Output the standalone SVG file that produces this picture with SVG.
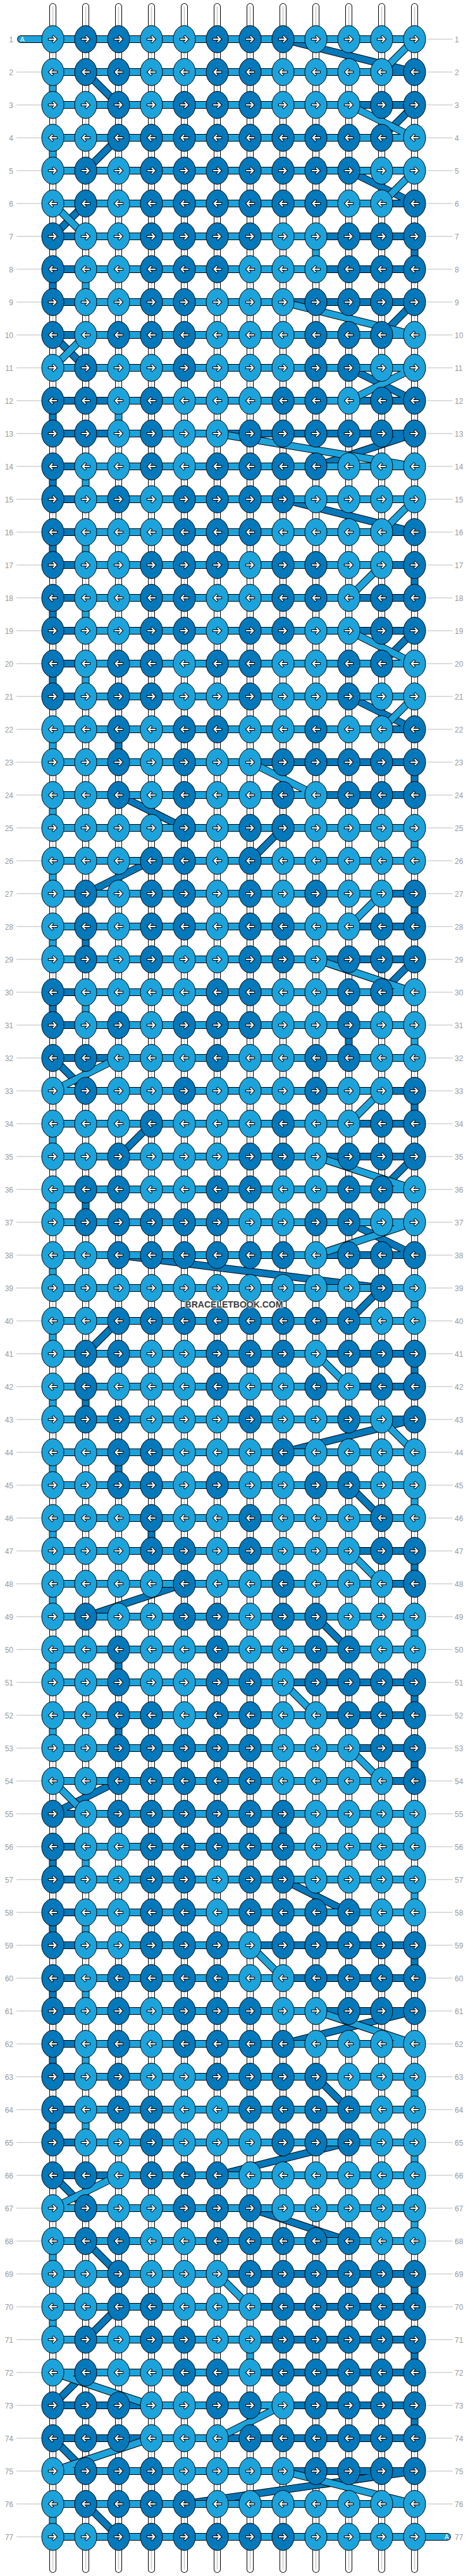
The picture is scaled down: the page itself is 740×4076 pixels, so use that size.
<svg xmlns="http://www.w3.org/2000/svg" width="740" height="4076" viewBox="0 0 740 4076">
<style>
text{font-family:"Liberation Sans",Arial,sans-serif}
.nl{font-size:12px;fill:#999;text-anchor:end}
.nr{font-size:12px;fill:#999}
.at{font-size:10px;fill:#fff}
.wm{font-size:14px;font-weight:bold;fill:#3d3d3d;text-anchor:middle;stroke:#fff;stroke-width:2px;stroke-opacity:.7;paint-order:stroke}
.gl{fill:none;stroke:#bbb;stroke-width:.0192}
.to{fill:none;stroke:#000;stroke-width:.2115;stroke-linecap:round}
.tw{fill:none;stroke:#fff;stroke-width:.1731;stroke-linecap:round}
.tg{fill:none;stroke:#c8c8c8;stroke-width:.03}
.o{fill:none;stroke:#000;stroke-width:.2308;stroke-linejoin:round;stroke-linecap:round}
.fa{fill:none;stroke:#1da3db;stroke-width:.1923;stroke-linejoin:round;stroke-linecap:round}
.fb{fill:none;stroke:#0378ba;stroke-width:.1923;stroke-linejoin:round;stroke-linecap:round}
.eL{fill:#1da3db;stroke:#000;stroke-width:1}
.eD{fill:#0378ba;stroke:#000;stroke-width:1}
.ao{fill:none;stroke:#000;stroke-width:4.1;stroke-linecap:square}
.ai{fill:none;stroke:#fff;stroke-width:2.1;stroke-linecap:square}
</style>
<defs>
<path id="ar" d="M-5.6 0H4.6M1 -3.9L4.9 0L1 3.9"/>
<g id="R"><use href="#ar" class="ao"/><use href="#ar" class="ai"/></g>
<g id="a"><ellipse class="eL" rx="17.5" ry="21.5"/><use href="#R"/></g>
<g id="b"><ellipse class="eD" rx="17.5" ry="21.5"/><use href="#R"/></g>
<g id="c"><ellipse class="eL" rx="17.5" ry="21.5"/><use href="#R" transform="scale(-1 1)"/></g>
<g id="d"><ellipse class="eD" rx="17.5" ry="21.5"/><use href="#R" transform="scale(-1 1)"/></g>
<path id="tube" d="M1 .01V77.99M2 .01V77.99M3 .01V77.99M4 .01V77.99M5 .01V77.99M6 .01V77.99M7 .01V77.99M8 .01V77.99M9 .01V77.99M10 .01V77.99M11 .01V77.99M12 .01V77.99"/>
<path id="pB" d="M2 1H8L12 2H2L3 3H12L11 4H3L2 5H10L12 6H2L1 7H12L12 8H1L1 9H12L11 10H1L2 11H10L12 12H1L1 13H12L9 14H1L1 15H8L12 16H1L1 17H12L12 18H1L1 19H12L11 20H1L1 21H10L12 22H3L3 23H12L12 24H3L5 25H8L7 26H4L2 27H12L12 28H2L2 29H12L11 30H1L1 31H10L10 32H1L2 33H12L12 34H4L3 35H12L11 36H2L2 37H10L12 38H3L11 39L10 40H3L2 41H12L12 42H2L2 43H12L8 44H3L3 45H10L11 46H4L4 47H12L12 48H5L2 49H9L10 50H3L3 51H12L12 52H3L3 53H12L12 54H3L1 55H8L8 56H1L1 57H8L10 58H1L1 59H12L12 60H1L1 61H12L8 62H1L1 63H9L10 64H1L1 65H10L6 66H1L2 67H7L10 68H2L3 69H12L12 70H3L2 71H12L12 72H2L1 73H12L12 74H1L2 75H12L5 76H2L3 77H8"/>
<path id="pA" d="M.03 1H12L11 2H1L1 3H10L12 4H1L1 5H12L11 6H1L2 7H9L9 8H2L2 9H8L12 10H2L1 11H12L10 12H3L3 13H6L12 14H2L2 15H12L11 16H2L2 17H11L10 18H2L2 19H10L12 20H2L2 21H12L11 22H1L1 23H7L9 24H1L1 25H12L12 26H1L1 27H11L10 28H1L1 29H9L12 30H2L2 31H12L12 32H3L1 33H11L10 34H1L1 35H9L12 36H1L1 37H12L9 38H1L1 39H12L12 40H1L1 41H9L10 42H1L1 43H11L12 44H1L1 45H12L12 46H1L1 47H10L11 48H1L1 49H12L12 50H1L1 51H8L9 52H1L1 53H10L11 54H1L2 55H12L12 56H2L2 57H12L12 58H2L2 59H7L8 60H2L2 61H9L12 62H2L2 63H12L12 64H2L2 65H12L12 66H3L1 67H12L12 68H1L1 69H6L7 70H1L1 71H7L7 72H1L4 73H8L6 74H4L1 75H8L12 76H1L1 77H12.99"/>
</defs>
<rect width="740" height="4076" fill="#fff"/>
<g id="grid" transform="translate(31.5 10) scale(52)">
<path class="gl" d="M-.106 2H.663M-.106 3H.663M-.106 4H.663M-.106 5H.663M-.106 6H.663M-.106 7H.663M-.106 8H.663M-.106 9H.663M-.106 10H.663M-.106 11H.663M-.106 12H.663M-.106 13H.663M-.106 14H.663M-.106 15H.663M-.106 16H.663M-.106 17H.663M-.106 18H.663M-.106 19H.663M-.106 20H.663M-.106 21H.663M-.106 22H.663M-.106 23H.663M-.106 24H.663M-.106 25H.663M-.106 26H.663M-.106 27H.663M-.106 28H.663M-.106 29H.663M-.106 30H.663M-.106 31H.663M-.106 32H.663M-.106 33H.663M-.106 34H.663M-.106 35H.663M-.106 36H.663M-.106 37H.663M-.106 38H.663M-.106 39H.663M-.106 40H.663M-.106 41H.663M-.106 42H.663M-.106 43H.663M-.106 44H.663M-.106 45H.663M-.106 46H.663M-.106 47H.663M-.106 48H.663M-.106 49H.663M-.106 50H.663M-.106 51H.663M-.106 52H.663M-.106 53H.663M-.106 54H.663M-.106 55H.663M-.106 56H.663M-.106 57H.663M-.106 58H.663M-.106 59H.663M-.106 60H.663M-.106 61H.663M-.106 62H.663M-.106 63H.663M-.106 64H.663M-.106 65H.663M-.106 66H.663M-.106 67H.663M-.106 68H.663M-.106 69H.663M-.106 70H.663M-.106 71H.663M-.106 72H.663M-.106 73H.663M-.106 74H.663M-.106 75H.663M-.106 76H.663M-.106 77H.663"/>
<path class="gl" d="M12.385 1H13.154M12.385 2H13.154M12.385 3H13.154M12.385 4H13.154M12.385 5H13.154M12.385 6H13.154M12.385 7H13.154M12.385 8H13.154M12.385 9H13.154M12.385 10H13.154M12.385 11H13.154M12.385 12H13.154M12.385 13H13.154M12.385 14H13.154M12.385 15H13.154M12.385 16H13.154M12.385 17H13.154M12.385 18H13.154M12.385 19H13.154M12.385 20H13.154M12.385 21H13.154M12.385 22H13.154M12.385 23H13.154M12.385 24H13.154M12.385 25H13.154M12.385 26H13.154M12.385 27H13.154M12.385 28H13.154M12.385 29H13.154M12.385 30H13.154M12.385 31H13.154M12.385 32H13.154M12.385 33H13.154M12.385 34H13.154M12.385 35H13.154M12.385 36H13.154M12.385 37H13.154M12.385 38H13.154M12.385 39H13.154M12.385 40H13.154M12.385 41H13.154M12.385 42H13.154M12.385 43H13.154M12.385 44H13.154M12.385 45H13.154M12.385 46H13.154M12.385 47H13.154M12.385 48H13.154M12.385 49H13.154M12.385 50H13.154M12.385 51H13.154M12.385 52H13.154M12.385 53H13.154M12.385 54H13.154M12.385 55H13.154M12.385 56H13.154M12.385 57H13.154M12.385 58H13.154M12.385 59H13.154M12.385 60H13.154M12.385 61H13.154M12.385 62H13.154M12.385 63H13.154M12.385 64H13.154M12.385 65H13.154M12.385 66H13.154M12.385 67H13.154M12.385 68H13.154M12.385 69H13.154M12.385 70H13.154M12.385 71H13.154M12.385 72H13.154M12.385 73H13.154M12.385 74H13.154M12.385 75H13.154M12.385 76H13.154"/>
<g id="strings"><use href="#tube" class="to"/><use href="#tube" class="tw"/><use href="#tube" class="tg"/></g>
<g id="connectors">
<g id="threadB"><use href="#pB" class="o"/><use href="#pB" class="fb"/></g>
<g id="threadA"><use href="#pA" class="o"/><use href="#pA" class="fa"/></g>
</g>
</g>
<text class="at" x="32" y="66">A</text>
<text class="at" x="703" y="4018">A</text>
<g id="knots">
<g id="row1" transform="translate(31.5 62)"><use id="k1-1" href="#a" x="52"/><use id="k1-2" href="#b" x="104"/><use id="k1-3" href="#b" x="156"/><use id="k1-4" href="#a" x="208"/><use id="k1-5" href="#a" x="260"/><use id="k1-6" href="#b" x="312"/><use id="k1-7" href="#b" x="364"/><use id="k1-8" href="#b" x="416"/><use id="k1-9" href="#a" x="468"/><use id="k1-10" href="#a" x="520"/><use id="k1-11" href="#a" x="572"/><use id="k1-12" href="#a" x="624"/></g>
<g id="row2" transform="translate(31.5 114)"><use id="k2-1" href="#c" x="52"/><use id="k2-2" href="#d" x="104"/><use id="k2-3" href="#d" x="156"/><use id="k2-4" href="#c" x="208"/><use id="k2-5" href="#c" x="260"/><use id="k2-6" href="#d" x="312"/><use id="k2-7" href="#d" x="364"/><use id="k2-8" href="#c" x="416"/><use id="k2-9" href="#c" x="468"/><use id="k2-10" href="#c" x="520"/><use id="k2-11" href="#c" x="572"/><use id="k2-12" href="#d" x="624"/></g>
<g id="row3" transform="translate(31.5 166)"><use id="k3-1" href="#a" x="52"/><use id="k3-2" href="#a" x="104"/><use id="k3-3" href="#b" x="156"/><use id="k3-4" href="#a" x="208"/><use id="k3-5" href="#b" x="260"/><use id="k3-6" href="#b" x="312"/><use id="k3-7" href="#b" x="364"/><use id="k3-8" href="#a" x="416"/><use id="k3-9" href="#a" x="468"/><use id="k3-10" href="#a" x="520"/><use id="k3-11" href="#b" x="572"/><use id="k3-12" href="#b" x="624"/></g>
<g id="row4" transform="translate(31.5 218)"><use id="k4-1" href="#c" x="52"/><use id="k4-2" href="#c" x="104"/><use id="k4-3" href="#d" x="156"/><use id="k4-4" href="#d" x="208"/><use id="k4-5" href="#d" x="260"/><use id="k4-6" href="#d" x="312"/><use id="k4-7" href="#d" x="364"/><use id="k4-8" href="#d" x="416"/><use id="k4-9" href="#d" x="468"/><use id="k4-10" href="#d" x="520"/><use id="k4-11" href="#d" x="572"/><use id="k4-12" href="#c" x="624"/></g>
<g id="row5" transform="translate(31.5 270)"><use id="k5-1" href="#a" x="52"/><use id="k5-2" href="#b" x="104"/><use id="k5-3" href="#a" x="156"/><use id="k5-4" href="#b" x="208"/><use id="k5-5" href="#b" x="260"/><use id="k5-6" href="#b" x="312"/><use id="k5-7" href="#b" x="364"/><use id="k5-8" href="#b" x="416"/><use id="k5-9" href="#b" x="468"/><use id="k5-10" href="#b" x="520"/><use id="k5-11" href="#a" x="572"/><use id="k5-12" href="#a" x="624"/></g>
<g id="row6" transform="translate(31.5 322)"><use id="k6-1" href="#c" x="52"/><use id="k6-2" href="#d" x="104"/><use id="k6-3" href="#c" x="156"/><use id="k6-4" href="#d" x="208"/><use id="k6-5" href="#d" x="260"/><use id="k6-6" href="#d" x="312"/><use id="k6-7" href="#d" x="364"/><use id="k6-8" href="#d" x="416"/><use id="k6-9" href="#d" x="468"/><use id="k6-10" href="#c" x="520"/><use id="k6-11" href="#c" x="572"/><use id="k6-12" href="#d" x="624"/></g>
<g id="row7" transform="translate(31.5 374)"><use id="k7-1" href="#b" x="52"/><use id="k7-2" href="#a" x="104"/><use id="k7-3" href="#a" x="156"/><use id="k7-4" href="#b" x="208"/><use id="k7-5" href="#b" x="260"/><use id="k7-6" href="#b" x="312"/><use id="k7-7" href="#b" x="364"/><use id="k7-8" href="#a" x="416"/><use id="k7-9" href="#a" x="468"/><use id="k7-10" href="#b" x="520"/><use id="k7-11" href="#b" x="572"/><use id="k7-12" href="#b" x="624"/></g>
<g id="row8" transform="translate(31.5 426)"><use id="k8-1" href="#d" x="52"/><use id="k8-2" href="#c" x="104"/><use id="k8-3" href="#c" x="156"/><use id="k8-4" href="#d" x="208"/><use id="k8-5" href="#d" x="260"/><use id="k8-6" href="#d" x="312"/><use id="k8-7" href="#c" x="364"/><use id="k8-8" href="#c" x="416"/><use id="k8-9" href="#c" x="468"/><use id="k8-10" href="#d" x="520"/><use id="k8-11" href="#d" x="572"/><use id="k8-12" href="#d" x="624"/></g>
<g id="row9" transform="translate(31.5 478)"><use id="k9-1" href="#b" x="52"/><use id="k9-2" href="#a" x="104"/><use id="k9-3" href="#a" x="156"/><use id="k9-4" href="#b" x="208"/><use id="k9-5" href="#b" x="260"/><use id="k9-6" href="#a" x="312"/><use id="k9-7" href="#a" x="364"/><use id="k9-8" href="#a" x="416"/><use id="k9-9" href="#b" x="468"/><use id="k9-10" href="#b" x="520"/><use id="k9-11" href="#b" x="572"/><use id="k9-12" href="#b" x="624"/></g>
<g id="row10" transform="translate(31.5 530)"><use id="k10-1" href="#d" x="52"/><use id="k10-2" href="#c" x="104"/><use id="k10-3" href="#d" x="156"/><use id="k10-4" href="#d" x="208"/><use id="k10-5" href="#d" x="260"/><use id="k10-6" href="#c" x="312"/><use id="k10-7" href="#c" x="364"/><use id="k10-8" href="#c" x="416"/><use id="k10-9" href="#d" x="468"/><use id="k10-10" href="#d" x="520"/><use id="k10-11" href="#d" x="572"/><use id="k10-12" href="#c" x="624"/></g>
<g id="row11" transform="translate(31.5 582)"><use id="k11-1" href="#a" x="52"/><use id="k11-2" href="#b" x="104"/><use id="k11-3" href="#a" x="156"/><use id="k11-4" href="#a" x="208"/><use id="k11-5" href="#b" x="260"/><use id="k11-6" href="#a" x="312"/><use id="k11-7" href="#a" x="364"/><use id="k11-8" href="#a" x="416"/><use id="k11-9" href="#b" x="468"/><use id="k11-10" href="#b" x="520"/><use id="k11-11" href="#a" x="572"/><use id="k11-12" href="#a" x="624"/></g>
<g id="row12" transform="translate(31.5 634)"><use id="k12-1" href="#d" x="52"/><use id="k12-2" href="#d" x="104"/><use id="k12-3" href="#c" x="156"/><use id="k12-4" href="#d" x="208"/><use id="k12-5" href="#c" x="260"/><use id="k12-6" href="#c" x="312"/><use id="k12-7" href="#c" x="364"/><use id="k12-8" href="#d" x="416"/><use id="k12-9" href="#d" x="468"/><use id="k12-10" href="#c" x="520"/><use id="k12-11" href="#d" x="572"/><use id="k12-12" href="#d" x="624"/></g>
<g id="row13" transform="translate(31.5 686)"><use id="k13-1" href="#b" x="52"/><use id="k13-2" href="#b" x="104"/><use id="k13-3" href="#a" x="156"/><use id="k13-4" href="#b" x="208"/><use id="k13-5" href="#a" x="260"/><use id="k13-6" href="#a" x="312"/><use id="k13-7" href="#b" x="364"/><use id="k13-8" href="#b" x="416"/><use id="k13-9" href="#b" x="468"/><use id="k13-10" href="#b" x="520"/><use id="k13-11" href="#b" x="572"/><use id="k13-12" href="#b" x="624"/></g>
<g id="row14" transform="translate(31.5 738)"><use id="k14-1" href="#d" x="52"/><use id="k14-2" href="#c" x="104"/><use id="k14-3" href="#c" x="156"/><use id="k14-4" href="#d" x="208"/><use id="k14-5" href="#c" x="260"/><use id="k14-6" href="#d" x="312"/><use id="k14-7" href="#d" x="364"/><use id="k14-8" href="#d" x="416"/><use id="k14-9" href="#d" x="468"/><use id="k14-10" href="#c" x="520"/><use id="k14-11" href="#c" x="572"/><use id="k14-12" href="#c" x="624"/></g>
<g id="row15" transform="translate(31.5 790)"><use id="k15-1" href="#b" x="52"/><use id="k15-2" href="#a" x="104"/><use id="k15-3" href="#b" x="156"/><use id="k15-4" href="#a" x="208"/><use id="k15-5" href="#b" x="260"/><use id="k15-6" href="#b" x="312"/><use id="k15-7" href="#b" x="364"/><use id="k15-8" href="#b" x="416"/><use id="k15-9" href="#a" x="468"/><use id="k15-10" href="#a" x="520"/><use id="k15-11" href="#a" x="572"/><use id="k15-12" href="#a" x="624"/></g>
<g id="row16" transform="translate(31.5 842)"><use id="k16-1" href="#d" x="52"/><use id="k16-2" href="#c" x="104"/><use id="k16-3" href="#c" x="156"/><use id="k16-4" href="#c" x="208"/><use id="k16-5" href="#d" x="260"/><use id="k16-6" href="#d" x="312"/><use id="k16-7" href="#d" x="364"/><use id="k16-8" href="#c" x="416"/><use id="k16-9" href="#c" x="468"/><use id="k16-10" href="#c" x="520"/><use id="k16-11" href="#c" x="572"/><use id="k16-12" href="#d" x="624"/></g>
<g id="row17" transform="translate(31.5 894)"><use id="k17-1" href="#b" x="52"/><use id="k17-2" href="#a" x="104"/><use id="k17-3" href="#a" x="156"/><use id="k17-4" href="#b" x="208"/><use id="k17-5" href="#b" x="260"/><use id="k17-6" href="#b" x="312"/><use id="k17-7" href="#a" x="364"/><use id="k17-8" href="#b" x="416"/><use id="k17-9" href="#b" x="468"/><use id="k17-10" href="#a" x="520"/><use id="k17-11" href="#a" x="572"/><use id="k17-12" href="#b" x="624"/></g>
<g id="row18" transform="translate(31.5 946)"><use id="k18-1" href="#d" x="52"/><use id="k18-2" href="#c" x="104"/><use id="k18-3" href="#c" x="156"/><use id="k18-4" href="#d" x="208"/><use id="k18-5" href="#d" x="260"/><use id="k18-6" href="#c" x="312"/><use id="k18-7" href="#c" x="364"/><use id="k18-8" href="#d" x="416"/><use id="k18-9" href="#d" x="468"/><use id="k18-10" href="#c" x="520"/><use id="k18-11" href="#d" x="572"/><use id="k18-12" href="#d" x="624"/></g>
<g id="row19" transform="translate(31.5 998)"><use id="k19-1" href="#b" x="52"/><use id="k19-2" href="#a" x="104"/><use id="k19-3" href="#a" x="156"/><use id="k19-4" href="#b" x="208"/><use id="k19-5" href="#b" x="260"/><use id="k19-6" href="#a" x="312"/><use id="k19-7" href="#b" x="364"/><use id="k19-8" href="#b" x="416"/><use id="k19-9" href="#a" x="468"/><use id="k19-10" href="#a" x="520"/><use id="k19-11" href="#b" x="572"/><use id="k19-12" href="#b" x="624"/></g>
<g id="row20" transform="translate(31.5 1050)"><use id="k20-1" href="#d" x="52"/><use id="k20-2" href="#c" x="104"/><use id="k20-3" href="#d" x="156"/><use id="k20-4" href="#d" x="208"/><use id="k20-5" href="#c" x="260"/><use id="k20-6" href="#d" x="312"/><use id="k20-7" href="#d" x="364"/><use id="k20-8" href="#c" x="416"/><use id="k20-9" href="#c" x="468"/><use id="k20-10" href="#d" x="520"/><use id="k20-11" href="#d" x="572"/><use id="k20-12" href="#c" x="624"/></g>
<g id="row21" transform="translate(31.5 1102)"><use id="k21-1" href="#b" x="52"/><use id="k21-2" href="#a" x="104"/><use id="k21-3" href="#b" x="156"/><use id="k21-4" href="#b" x="208"/><use id="k21-5" href="#a" x="260"/><use id="k21-6" href="#a" x="312"/><use id="k21-7" href="#b" x="364"/><use id="k21-8" href="#a" x="416"/><use id="k21-9" href="#a" x="468"/><use id="k21-10" href="#b" x="520"/><use id="k21-11" href="#a" x="572"/><use id="k21-12" href="#a" x="624"/></g>
<g id="row22" transform="translate(31.5 1154)"><use id="k22-1" href="#c" x="52"/><use id="k22-2" href="#c" x="104"/><use id="k22-3" href="#d" x="156"/><use id="k22-4" href="#c" x="208"/><use id="k22-5" href="#d" x="260"/><use id="k22-6" href="#d" x="312"/><use id="k22-7" href="#c" x="364"/><use id="k22-8" href="#c" x="416"/><use id="k22-9" href="#d" x="468"/><use id="k22-10" href="#c" x="520"/><use id="k22-11" href="#c" x="572"/><use id="k22-12" href="#d" x="624"/></g>
<g id="row23" transform="translate(31.5 1206)"><use id="k23-1" href="#a" x="52"/><use id="k23-2" href="#a" x="104"/><use id="k23-3" href="#b" x="156"/><use id="k23-4" href="#a" x="208"/><use id="k23-5" href="#b" x="260"/><use id="k23-6" href="#a" x="312"/><use id="k23-7" href="#a" x="364"/><use id="k23-8" href="#b" x="416"/><use id="k23-9" href="#b" x="468"/><use id="k23-10" href="#b" x="520"/><use id="k23-11" href="#b" x="572"/><use id="k23-12" href="#b" x="624"/></g>
<g id="row24" transform="translate(31.5 1258)"><use id="k24-1" href="#c" x="52"/><use id="k24-2" href="#c" x="104"/><use id="k24-3" href="#d" x="156"/><use id="k24-4" href="#c" x="208"/><use id="k24-5" href="#d" x="260"/><use id="k24-6" href="#c" x="312"/><use id="k24-7" href="#c" x="364"/><use id="k24-8" href="#d" x="416"/><use id="k24-9" href="#c" x="468"/><use id="k24-10" href="#d" x="520"/><use id="k24-11" href="#d" x="572"/><use id="k24-12" href="#d" x="624"/></g>
<g id="row25" transform="translate(31.5 1310)"><use id="k25-1" href="#a" x="52"/><use id="k25-2" href="#a" x="104"/><use id="k25-3" href="#a" x="156"/><use id="k25-4" href="#a" x="208"/><use id="k25-5" href="#b" x="260"/><use id="k25-6" href="#a" x="312"/><use id="k25-7" href="#b" x="364"/><use id="k25-8" href="#b" x="416"/><use id="k25-9" href="#a" x="468"/><use id="k25-10" href="#a" x="520"/><use id="k25-11" href="#a" x="572"/><use id="k25-12" href="#a" x="624"/></g>
<g id="row26" transform="translate(31.5 1362)"><use id="k26-1" href="#c" x="52"/><use id="k26-2" href="#c" x="104"/><use id="k26-3" href="#c" x="156"/><use id="k26-4" href="#d" x="208"/><use id="k26-5" href="#d" x="260"/><use id="k26-6" href="#c" x="312"/><use id="k26-7" href="#d" x="364"/><use id="k26-8" href="#c" x="416"/><use id="k26-9" href="#c" x="468"/><use id="k26-10" href="#c" x="520"/><use id="k26-11" href="#c" x="572"/><use id="k26-12" href="#c" x="624"/></g>
<g id="row27" transform="translate(31.5 1414)"><use id="k27-1" href="#a" x="52"/><use id="k27-2" href="#b" x="104"/><use id="k27-3" href="#a" x="156"/><use id="k27-4" href="#b" x="208"/><use id="k27-5" href="#b" x="260"/><use id="k27-6" href="#a" x="312"/><use id="k27-7" href="#b" x="364"/><use id="k27-8" href="#a" x="416"/><use id="k27-9" href="#b" x="468"/><use id="k27-10" href="#a" x="520"/><use id="k27-11" href="#a" x="572"/><use id="k27-12" href="#b" x="624"/></g>
<g id="row28" transform="translate(31.5 1466)"><use id="k28-1" href="#c" x="52"/><use id="k28-2" href="#d" x="104"/><use id="k28-3" href="#c" x="156"/><use id="k28-4" href="#d" x="208"/><use id="k28-5" href="#d" x="260"/><use id="k28-6" href="#c" x="312"/><use id="k28-7" href="#d" x="364"/><use id="k28-8" href="#d" x="416"/><use id="k28-9" href="#c" x="468"/><use id="k28-10" href="#c" x="520"/><use id="k28-11" href="#d" x="572"/><use id="k28-12" href="#d" x="624"/></g>
<g id="row29" transform="translate(31.5 1518)"><use id="k29-1" href="#a" x="52"/><use id="k29-2" href="#b" x="104"/><use id="k29-3" href="#a" x="156"/><use id="k29-4" href="#b" x="208"/><use id="k29-5" href="#a" x="260"/><use id="k29-6" href="#a" x="312"/><use id="k29-7" href="#b" x="364"/><use id="k29-8" href="#b" x="416"/><use id="k29-9" href="#a" x="468"/><use id="k29-10" href="#b" x="520"/><use id="k29-11" href="#b" x="572"/><use id="k29-12" href="#b" x="624"/></g>
<g id="row30" transform="translate(31.5 1570)"><use id="k30-1" href="#d" x="52"/><use id="k30-2" href="#c" x="104"/><use id="k30-3" href="#c" x="156"/><use id="k30-4" href="#c" x="208"/><use id="k30-5" href="#c" x="260"/><use id="k30-6" href="#d" x="312"/><use id="k30-7" href="#d" x="364"/><use id="k30-8" href="#c" x="416"/><use id="k30-9" href="#c" x="468"/><use id="k30-10" href="#d" x="520"/><use id="k30-11" href="#d" x="572"/><use id="k30-12" href="#c" x="624"/></g>
<g id="row31" transform="translate(31.5 1622)"><use id="k31-1" href="#b" x="52"/><use id="k31-2" href="#a" x="104"/><use id="k31-3" href="#b" x="156"/><use id="k31-4" href="#a" x="208"/><use id="k31-5" href="#b" x="260"/><use id="k31-6" href="#b" x="312"/><use id="k31-7" href="#b" x="364"/><use id="k31-8" href="#a" x="416"/><use id="k31-9" href="#a" x="468"/><use id="k31-10" href="#b" x="520"/><use id="k31-11" href="#a" x="572"/><use id="k31-12" href="#a" x="624"/></g>
<g id="row32" transform="translate(31.5 1674)"><use id="k32-1" href="#d" x="52"/><use id="k32-2" href="#d" x="104"/><use id="k32-3" href="#c" x="156"/><use id="k32-4" href="#c" x="208"/><use id="k32-5" href="#c" x="260"/><use id="k32-6" href="#d" x="312"/><use id="k32-7" href="#c" x="364"/><use id="k32-8" href="#c" x="416"/><use id="k32-9" href="#d" x="468"/><use id="k32-10" href="#d" x="520"/><use id="k32-11" href="#c" x="572"/><use id="k32-12" href="#c" x="624"/></g>
<g id="row33" transform="translate(31.5 1726)"><use id="k33-1" href="#a" x="52"/><use id="k33-2" href="#b" x="104"/><use id="k33-3" href="#a" x="156"/><use id="k33-4" href="#a" x="208"/><use id="k33-5" href="#b" x="260"/><use id="k33-6" href="#a" x="312"/><use id="k33-7" href="#a" x="364"/><use id="k33-8" href="#a" x="416"/><use id="k33-9" href="#b" x="468"/><use id="k33-10" href="#a" x="520"/><use id="k33-11" href="#a" x="572"/><use id="k33-12" href="#b" x="624"/></g>
<g id="row34" transform="translate(31.5 1778)"><use id="k34-1" href="#c" x="52"/><use id="k34-2" href="#c" x="104"/><use id="k34-3" href="#c" x="156"/><use id="k34-4" href="#d" x="208"/><use id="k34-5" href="#c" x="260"/><use id="k34-6" href="#c" x="312"/><use id="k34-7" href="#c" x="364"/><use id="k34-8" href="#d" x="416"/><use id="k34-9" href="#c" x="468"/><use id="k34-10" href="#c" x="520"/><use id="k34-11" href="#d" x="572"/><use id="k34-12" href="#d" x="624"/></g>
<g id="row35" transform="translate(31.5 1830)"><use id="k35-1" href="#a" x="52"/><use id="k35-2" href="#a" x="104"/><use id="k35-3" href="#b" x="156"/><use id="k35-4" href="#a" x="208"/><use id="k35-5" href="#a" x="260"/><use id="k35-6" href="#a" x="312"/><use id="k35-7" href="#b" x="364"/><use id="k35-8" href="#b" x="416"/><use id="k35-9" href="#a" x="468"/><use id="k35-10" href="#b" x="520"/><use id="k35-11" href="#b" x="572"/><use id="k35-12" href="#b" x="624"/></g>
<g id="row36" transform="translate(31.5 1882)"><use id="k36-1" href="#c" x="52"/><use id="k36-2" href="#d" x="104"/><use id="k36-3" href="#d" x="156"/><use id="k36-4" href="#c" x="208"/><use id="k36-5" href="#c" x="260"/><use id="k36-6" href="#d" x="312"/><use id="k36-7" href="#d" x="364"/><use id="k36-8" href="#c" x="416"/><use id="k36-9" href="#c" x="468"/><use id="k36-10" href="#d" x="520"/><use id="k36-11" href="#d" x="572"/><use id="k36-12" href="#c" x="624"/></g>
<g id="row37" transform="translate(31.5 1934)"><use id="k37-1" href="#a" x="52"/><use id="k37-2" href="#b" x="104"/><use id="k37-3" href="#b" x="156"/><use id="k37-4" href="#b" x="208"/><use id="k37-5" href="#b" x="260"/><use id="k37-6" href="#b" x="312"/><use id="k37-7" href="#a" x="364"/><use id="k37-8" href="#a" x="416"/><use id="k37-9" href="#b" x="468"/><use id="k37-10" href="#b" x="520"/><use id="k37-11" href="#a" x="572"/><use id="k37-12" href="#a" x="624"/></g>
<g id="row38" transform="translate(31.5 1986)"><use id="k38-1" href="#c" x="52"/><use id="k38-2" href="#c" x="104"/><use id="k38-3" href="#d" x="156"/><use id="k38-4" href="#d" x="208"/><use id="k38-5" href="#d" x="260"/><use id="k38-6" href="#d" x="312"/><use id="k38-7" href="#d" x="364"/><use id="k38-8" href="#d" x="416"/><use id="k38-9" href="#c" x="468"/><use id="k38-10" href="#d" x="520"/><use id="k38-11" href="#d" x="572"/><use id="k38-12" href="#d" x="624"/></g>
<g id="row39" transform="translate(31.5 2038)"><use id="k39-1" href="#a" x="52"/><use id="k39-2" href="#a" x="104"/><use id="k39-3" href="#a" x="156"/><use id="k39-4" href="#a" x="208"/><use id="k39-5" href="#a" x="260"/><use id="k39-6" href="#a" x="312"/><use id="k39-7" href="#a" x="364"/><use id="k39-8" href="#a" x="416"/><use id="k39-9" href="#a" x="468"/><use id="k39-10" href="#a" x="520"/><use id="k39-11" href="#b" x="572"/><use id="k39-12" href="#a" x="624"/></g>
<g id="row40" transform="translate(31.5 2090)"><use id="k40-1" href="#c" x="52"/><use id="k40-2" href="#c" x="104"/><use id="k40-3" href="#d" x="156"/><use id="k40-4" href="#d" x="208"/><use id="k40-5" href="#d" x="260"/><use id="k40-6" href="#d" x="312"/><use id="k40-7" href="#d" x="364"/><use id="k40-8" href="#d" x="416"/><use id="k40-9" href="#d" x="468"/><use id="k40-10" href="#d" x="520"/><use id="k40-11" href="#c" x="572"/><use id="k40-12" href="#c" x="624"/></g>
<g id="row41" transform="translate(31.5 2142)"><use id="k41-1" href="#a" x="52"/><use id="k41-2" href="#b" x="104"/><use id="k41-3" href="#b" x="156"/><use id="k41-4" href="#a" x="208"/><use id="k41-5" href="#a" x="260"/><use id="k41-6" href="#b" x="312"/><use id="k41-7" href="#b" x="364"/><use id="k41-8" href="#b" x="416"/><use id="k41-9" href="#a" x="468"/><use id="k41-10" href="#b" x="520"/><use id="k41-11" href="#b" x="572"/><use id="k41-12" href="#b" x="624"/></g>
<g id="row42" transform="translate(31.5 2194)"><use id="k42-1" href="#c" x="52"/><use id="k42-2" href="#d" x="104"/><use id="k42-3" href="#c" x="156"/><use id="k42-4" href="#c" x="208"/><use id="k42-5" href="#c" x="260"/><use id="k42-6" href="#d" x="312"/><use id="k42-7" href="#c" x="364"/><use id="k42-8" href="#c" x="416"/><use id="k42-9" href="#d" x="468"/><use id="k42-10" href="#c" x="520"/><use id="k42-11" href="#d" x="572"/><use id="k42-12" href="#d" x="624"/></g>
<g id="row43" transform="translate(31.5 2246)"><use id="k43-1" href="#a" x="52"/><use id="k43-2" href="#b" x="104"/><use id="k43-3" href="#b" x="156"/><use id="k43-4" href="#a" x="208"/><use id="k43-5" href="#a" x="260"/><use id="k43-6" href="#a" x="312"/><use id="k43-7" href="#b" x="364"/><use id="k43-8" href="#a" x="416"/><use id="k43-9" href="#a" x="468"/><use id="k43-10" href="#b" x="520"/><use id="k43-11" href="#a" x="572"/><use id="k43-12" href="#b" x="624"/></g>
<g id="row44" transform="translate(31.5 2298)"><use id="k44-1" href="#c" x="52"/><use id="k44-2" href="#c" x="104"/><use id="k44-3" href="#d" x="156"/><use id="k44-4" href="#d" x="208"/><use id="k44-5" href="#c" x="260"/><use id="k44-6" href="#c" x="312"/><use id="k44-7" href="#c" x="364"/><use id="k44-8" href="#d" x="416"/><use id="k44-9" href="#c" x="468"/><use id="k44-10" href="#c" x="520"/><use id="k44-11" href="#c" x="572"/><use id="k44-12" href="#c" x="624"/></g>
<g id="row45" transform="translate(31.5 2350)"><use id="k45-1" href="#a" x="52"/><use id="k45-2" href="#a" x="104"/><use id="k45-3" href="#b" x="156"/><use id="k45-4" href="#b" x="208"/><use id="k45-5" href="#a" x="260"/><use id="k45-6" href="#b" x="312"/><use id="k45-7" href="#a" x="364"/><use id="k45-8" href="#a" x="416"/><use id="k45-9" href="#b" x="468"/><use id="k45-10" href="#b" x="520"/><use id="k45-11" href="#a" x="572"/><use id="k45-12" href="#a" x="624"/></g>
<g id="row46" transform="translate(31.5 2402)"><use id="k46-1" href="#c" x="52"/><use id="k46-2" href="#c" x="104"/><use id="k46-3" href="#c" x="156"/><use id="k46-4" href="#d" x="208"/><use id="k46-5" href="#c" x="260"/><use id="k46-6" href="#c" x="312"/><use id="k46-7" href="#d" x="364"/><use id="k46-8" href="#c" x="416"/><use id="k46-9" href="#c" x="468"/><use id="k46-10" href="#c" x="520"/><use id="k46-11" href="#d" x="572"/><use id="k46-12" href="#c" x="624"/></g>
<g id="row47" transform="translate(31.5 2454)"><use id="k47-1" href="#a" x="52"/><use id="k47-2" href="#a" x="104"/><use id="k47-3" href="#a" x="156"/><use id="k47-4" href="#b" x="208"/><use id="k47-5" href="#b" x="260"/><use id="k47-6" href="#a" x="312"/><use id="k47-7" href="#b" x="364"/><use id="k47-8" href="#a" x="416"/><use id="k47-9" href="#a" x="468"/><use id="k47-10" href="#a" x="520"/><use id="k47-11" href="#b" x="572"/><use id="k47-12" href="#b" x="624"/></g>
<g id="row48" transform="translate(31.5 2506)"><use id="k48-1" href="#c" x="52"/><use id="k48-2" href="#c" x="104"/><use id="k48-3" href="#c" x="156"/><use id="k48-4" href="#c" x="208"/><use id="k48-5" href="#d" x="260"/><use id="k48-6" href="#c" x="312"/><use id="k48-7" href="#c" x="364"/><use id="k48-8" href="#d" x="416"/><use id="k48-9" href="#c" x="468"/><use id="k48-10" href="#c" x="520"/><use id="k48-11" href="#c" x="572"/><use id="k48-12" href="#d" x="624"/></g>
<g id="row49" transform="translate(31.5 2558)"><use id="k49-1" href="#a" x="52"/><use id="k49-2" href="#b" x="104"/><use id="k49-3" href="#a" x="156"/><use id="k49-4" href="#a" x="208"/><use id="k49-5" href="#b" x="260"/><use id="k49-6" href="#b" x="312"/><use id="k49-7" href="#a" x="364"/><use id="k49-8" href="#b" x="416"/><use id="k49-9" href="#b" x="468"/><use id="k49-10" href="#a" x="520"/><use id="k49-11" href="#a" x="572"/><use id="k49-12" href="#a" x="624"/></g>
<g id="row50" transform="translate(31.5 2610)"><use id="k50-1" href="#c" x="52"/><use id="k50-2" href="#c" x="104"/><use id="k50-3" href="#d" x="156"/><use id="k50-4" href="#c" x="208"/><use id="k50-5" href="#c" x="260"/><use id="k50-6" href="#d" x="312"/><use id="k50-7" href="#c" x="364"/><use id="k50-8" href="#c" x="416"/><use id="k50-9" href="#d" x="468"/><use id="k50-10" href="#d" x="520"/><use id="k50-11" href="#c" x="572"/><use id="k50-12" href="#c" x="624"/></g>
<g id="row51" transform="translate(31.5 2662)"><use id="k51-1" href="#a" x="52"/><use id="k51-2" href="#a" x="104"/><use id="k51-3" href="#b" x="156"/><use id="k51-4" href="#a" x="208"/><use id="k51-5" href="#a" x="260"/><use id="k51-6" href="#b" x="312"/><use id="k51-7" href="#b" x="364"/><use id="k51-8" href="#a" x="416"/><use id="k51-9" href="#b" x="468"/><use id="k51-10" href="#b" x="520"/><use id="k51-11" href="#b" x="572"/><use id="k51-12" href="#b" x="624"/></g>
<g id="row52" transform="translate(31.5 2714)"><use id="k52-1" href="#c" x="52"/><use id="k52-2" href="#c" x="104"/><use id="k52-3" href="#d" x="156"/><use id="k52-4" href="#d" x="208"/><use id="k52-5" href="#c" x="260"/><use id="k52-6" href="#d" x="312"/><use id="k52-7" href="#d" x="364"/><use id="k52-8" href="#c" x="416"/><use id="k52-9" href="#c" x="468"/><use id="k52-10" href="#d" x="520"/><use id="k52-11" href="#d" x="572"/><use id="k52-12" href="#d" x="624"/></g>
<g id="row53" transform="translate(31.5 2766)"><use id="k53-1" href="#a" x="52"/><use id="k53-2" href="#a" x="104"/><use id="k53-3" href="#b" x="156"/><use id="k53-4" href="#b" x="208"/><use id="k53-5" href="#b" x="260"/><use id="k53-6" href="#b" x="312"/><use id="k53-7" href="#b" x="364"/><use id="k53-8" href="#a" x="416"/><use id="k53-9" href="#a" x="468"/><use id="k53-10" href="#a" x="520"/><use id="k53-11" href="#b" x="572"/><use id="k53-12" href="#b" x="624"/></g>
<g id="row54" transform="translate(31.5 2818)"><use id="k54-1" href="#c" x="52"/><use id="k54-2" href="#c" x="104"/><use id="k54-3" href="#d" x="156"/><use id="k54-4" href="#d" x="208"/><use id="k54-5" href="#d" x="260"/><use id="k54-6" href="#d" x="312"/><use id="k54-7" href="#d" x="364"/><use id="k54-8" href="#c" x="416"/><use id="k54-9" href="#c" x="468"/><use id="k54-10" href="#c" x="520"/><use id="k54-11" href="#c" x="572"/><use id="k54-12" href="#d" x="624"/></g>
<g id="row55" transform="translate(31.5 2870)"><use id="k55-1" href="#b" x="52"/><use id="k55-2" href="#a" x="104"/><use id="k55-3" href="#b" x="156"/><use id="k55-4" href="#b" x="208"/><use id="k55-5" href="#b" x="260"/><use id="k55-6" href="#b" x="312"/><use id="k55-7" href="#b" x="364"/><use id="k55-8" href="#b" x="416"/><use id="k55-9" href="#a" x="468"/><use id="k55-10" href="#a" x="520"/><use id="k55-11" href="#a" x="572"/><use id="k55-12" href="#a" x="624"/></g>
<g id="row56" transform="translate(31.5 2922)"><use id="k56-1" href="#d" x="52"/><use id="k56-2" href="#c" x="104"/><use id="k56-3" href="#c" x="156"/><use id="k56-4" href="#d" x="208"/><use id="k56-5" href="#d" x="260"/><use id="k56-6" href="#d" x="312"/><use id="k56-7" href="#d" x="364"/><use id="k56-8" href="#d" x="416"/><use id="k56-9" href="#c" x="468"/><use id="k56-10" href="#c" x="520"/><use id="k56-11" href="#c" x="572"/><use id="k56-12" href="#c" x="624"/></g>
<g id="row57" transform="translate(31.5 2974)"><use id="k57-1" href="#b" x="52"/><use id="k57-2" href="#a" x="104"/><use id="k57-3" href="#a" x="156"/><use id="k57-4" href="#b" x="208"/><use id="k57-5" href="#b" x="260"/><use id="k57-6" href="#a" x="312"/><use id="k57-7" href="#b" x="364"/><use id="k57-8" href="#b" x="416"/><use id="k57-9" href="#a" x="468"/><use id="k57-10" href="#a" x="520"/><use id="k57-11" href="#a" x="572"/><use id="k57-12" href="#a" x="624"/></g>
<g id="row58" transform="translate(31.5 3026)"><use id="k58-1" href="#d" x="52"/><use id="k58-2" href="#c" x="104"/><use id="k58-3" href="#c" x="156"/><use id="k58-4" href="#d" x="208"/><use id="k58-5" href="#d" x="260"/><use id="k58-6" href="#c" x="312"/><use id="k58-7" href="#d" x="364"/><use id="k58-8" href="#d" x="416"/><use id="k58-9" href="#d" x="468"/><use id="k58-10" href="#d" x="520"/><use id="k58-11" href="#c" x="572"/><use id="k58-12" href="#c" x="624"/></g>
<g id="row59" transform="translate(31.5 3078)"><use id="k59-1" href="#b" x="52"/><use id="k59-2" href="#a" x="104"/><use id="k59-3" href="#a" x="156"/><use id="k59-4" href="#b" x="208"/><use id="k59-5" href="#b" x="260"/><use id="k59-6" href="#b" x="312"/><use id="k59-7" href="#a" x="364"/><use id="k59-8" href="#b" x="416"/><use id="k59-9" href="#b" x="468"/><use id="k59-10" href="#b" x="520"/><use id="k59-11" href="#b" x="572"/><use id="k59-12" href="#b" x="624"/></g>
<g id="row60" transform="translate(31.5 3130)"><use id="k60-1" href="#d" x="52"/><use id="k60-2" href="#c" x="104"/><use id="k60-3" href="#d" x="156"/><use id="k60-4" href="#d" x="208"/><use id="k60-5" href="#d" x="260"/><use id="k60-6" href="#d" x="312"/><use id="k60-7" href="#c" x="364"/><use id="k60-8" href="#c" x="416"/><use id="k60-9" href="#d" x="468"/><use id="k60-10" href="#d" x="520"/><use id="k60-11" href="#d" x="572"/><use id="k60-12" href="#d" x="624"/></g>
<g id="row61" transform="translate(31.5 3182)"><use id="k61-1" href="#b" x="52"/><use id="k61-2" href="#a" x="104"/><use id="k61-3" href="#b" x="156"/><use id="k61-4" href="#a" x="208"/><use id="k61-5" href="#b" x="260"/><use id="k61-6" href="#b" x="312"/><use id="k61-7" href="#b" x="364"/><use id="k61-8" href="#a" x="416"/><use id="k61-9" href="#a" x="468"/><use id="k61-10" href="#b" x="520"/><use id="k61-11" href="#b" x="572"/><use id="k61-12" href="#b" x="624"/></g>
<g id="row62" transform="translate(31.5 3234)"><use id="k62-1" href="#d" x="52"/><use id="k62-2" href="#c" x="104"/><use id="k62-3" href="#d" x="156"/><use id="k62-4" href="#c" x="208"/><use id="k62-5" href="#d" x="260"/><use id="k62-6" href="#d" x="312"/><use id="k62-7" href="#d" x="364"/><use id="k62-8" href="#d" x="416"/><use id="k62-9" href="#c" x="468"/><use id="k62-10" href="#c" x="520"/><use id="k62-11" href="#c" x="572"/><use id="k62-12" href="#c" x="624"/></g>
<g id="row63" transform="translate(31.5 3286)"><use id="k63-1" href="#b" x="52"/><use id="k63-2" href="#a" x="104"/><use id="k63-3" href="#b" x="156"/><use id="k63-4" href="#a" x="208"/><use id="k63-5" href="#a" x="260"/><use id="k63-6" href="#b" x="312"/><use id="k63-7" href="#b" x="364"/><use id="k63-8" href="#b" x="416"/><use id="k63-9" href="#b" x="468"/><use id="k63-10" href="#a" x="520"/><use id="k63-11" href="#a" x="572"/><use id="k63-12" href="#a" x="624"/></g>
<g id="row64" transform="translate(31.5 3338)"><use id="k64-1" href="#d" x="52"/><use id="k64-2" href="#c" x="104"/><use id="k64-3" href="#d" x="156"/><use id="k64-4" href="#d" x="208"/><use id="k64-5" href="#c" x="260"/><use id="k64-6" href="#c" x="312"/><use id="k64-7" href="#d" x="364"/><use id="k64-8" href="#d" x="416"/><use id="k64-9" href="#d" x="468"/><use id="k64-10" href="#d" x="520"/><use id="k64-11" href="#c" x="572"/><use id="k64-12" href="#c" x="624"/></g>
<g id="row65" transform="translate(31.5 3390)"><use id="k65-1" href="#b" x="52"/><use id="k65-2" href="#a" x="104"/><use id="k65-3" href="#a" x="156"/><use id="k65-4" href="#b" x="208"/><use id="k65-5" href="#a" x="260"/><use id="k65-6" href="#a" x="312"/><use id="k65-7" href="#a" x="364"/><use id="k65-8" href="#b" x="416"/><use id="k65-9" href="#b" x="468"/><use id="k65-10" href="#b" x="520"/><use id="k65-11" href="#a" x="572"/><use id="k65-12" href="#a" x="624"/></g>
<g id="row66" transform="translate(31.5 3442)"><use id="k66-1" href="#d" x="52"/><use id="k66-2" href="#d" x="104"/><use id="k66-3" href="#c" x="156"/><use id="k66-4" href="#d" x="208"/><use id="k66-5" href="#d" x="260"/><use id="k66-6" href="#d" x="312"/><use id="k66-7" href="#c" x="364"/><use id="k66-8" href="#c" x="416"/><use id="k66-9" href="#c" x="468"/><use id="k66-10" href="#c" x="520"/><use id="k66-11" href="#c" x="572"/><use id="k66-12" href="#c" x="624"/></g>
<g id="row67" transform="translate(31.5 3494)"><use id="k67-1" href="#a" x="52"/><use id="k67-2" href="#b" x="104"/><use id="k67-3" href="#a" x="156"/><use id="k67-4" href="#a" x="208"/><use id="k67-5" href="#b" x="260"/><use id="k67-6" href="#b" x="312"/><use id="k67-7" href="#b" x="364"/><use id="k67-8" href="#a" x="416"/><use id="k67-9" href="#a" x="468"/><use id="k67-10" href="#a" x="520"/><use id="k67-11" href="#a" x="572"/><use id="k67-12" href="#a" x="624"/></g>
<g id="row68" transform="translate(31.5 3546)"><use id="k68-1" href="#c" x="52"/><use id="k68-2" href="#d" x="104"/><use id="k68-3" href="#d" x="156"/><use id="k68-4" href="#c" x="208"/><use id="k68-5" href="#c" x="260"/><use id="k68-6" href="#d" x="312"/><use id="k68-7" href="#d" x="364"/><use id="k68-8" href="#d" x="416"/><use id="k68-9" href="#d" x="468"/><use id="k68-10" href="#d" x="520"/><use id="k68-11" href="#c" x="572"/><use id="k68-12" href="#c" x="624"/></g>
<g id="row69" transform="translate(31.5 3598)"><use id="k69-1" href="#a" x="52"/><use id="k69-2" href="#a" x="104"/><use id="k69-3" href="#b" x="156"/><use id="k69-4" href="#a" x="208"/><use id="k69-5" href="#a" x="260"/><use id="k69-6" href="#a" x="312"/><use id="k69-7" href="#b" x="364"/><use id="k69-8" href="#b" x="416"/><use id="k69-9" href="#b" x="468"/><use id="k69-10" href="#b" x="520"/><use id="k69-11" href="#b" x="572"/><use id="k69-12" href="#b" x="624"/></g>
<g id="row70" transform="translate(31.5 3650)"><use id="k70-1" href="#c" x="52"/><use id="k70-2" href="#c" x="104"/><use id="k70-3" href="#d" x="156"/><use id="k70-4" href="#d" x="208"/><use id="k70-5" href="#c" x="260"/><use id="k70-6" href="#c" x="312"/><use id="k70-7" href="#c" x="364"/><use id="k70-8" href="#d" x="416"/><use id="k70-9" href="#d" x="468"/><use id="k70-10" href="#d" x="520"/><use id="k70-11" href="#d" x="572"/><use id="k70-12" href="#d" x="624"/></g>
<g id="row71" transform="translate(31.5 3702)"><use id="k71-1" href="#a" x="52"/><use id="k71-2" href="#b" x="104"/><use id="k71-3" href="#a" x="156"/><use id="k71-4" href="#b" x="208"/><use id="k71-5" href="#b" x="260"/><use id="k71-6" href="#a" x="312"/><use id="k71-7" href="#a" x="364"/><use id="k71-8" href="#b" x="416"/><use id="k71-9" href="#b" x="468"/><use id="k71-10" href="#b" x="520"/><use id="k71-11" href="#b" x="572"/><use id="k71-12" href="#b" x="624"/></g>
<g id="row72" transform="translate(31.5 3754)"><use id="k72-1" href="#c" x="52"/><use id="k72-2" href="#d" x="104"/><use id="k72-3" href="#c" x="156"/><use id="k72-4" href="#c" x="208"/><use id="k72-5" href="#d" x="260"/><use id="k72-6" href="#d" x="312"/><use id="k72-7" href="#c" x="364"/><use id="k72-8" href="#d" x="416"/><use id="k72-9" href="#d" x="468"/><use id="k72-10" href="#d" x="520"/><use id="k72-11" href="#d" x="572"/><use id="k72-12" href="#d" x="624"/></g>
<g id="row73" transform="translate(31.5 3806)"><use id="k73-1" href="#b" x="52"/><use id="k73-2" href="#b" x="104"/><use id="k73-3" href="#b" x="156"/><use id="k73-4" href="#a" x="208"/><use id="k73-5" href="#a" x="260"/><use id="k73-6" href="#b" x="312"/><use id="k73-7" href="#b" x="364"/><use id="k73-8" href="#a" x="416"/><use id="k73-9" href="#b" x="468"/><use id="k73-10" href="#b" x="520"/><use id="k73-11" href="#b" x="572"/><use id="k73-12" href="#b" x="624"/></g>
<g id="row74" transform="translate(31.5 3858)"><use id="k74-1" href="#d" x="52"/><use id="k74-2" href="#d" x="104"/><use id="k74-3" href="#d" x="156"/><use id="k74-4" href="#c" x="208"/><use id="k74-5" href="#c" x="260"/><use id="k74-6" href="#c" x="312"/><use id="k74-7" href="#d" x="364"/><use id="k74-8" href="#d" x="416"/><use id="k74-9" href="#d" x="468"/><use id="k74-10" href="#d" x="520"/><use id="k74-11" href="#d" x="572"/><use id="k74-12" href="#d" x="624"/></g>
<g id="row75" transform="translate(31.5 3910)"><use id="k75-1" href="#a" x="52"/><use id="k75-2" href="#b" x="104"/><use id="k75-3" href="#b" x="156"/><use id="k75-4" href="#b" x="208"/><use id="k75-5" href="#a" x="260"/><use id="k75-6" href="#a" x="312"/><use id="k75-7" href="#a" x="364"/><use id="k75-8" href="#a" x="416"/><use id="k75-9" href="#b" x="468"/><use id="k75-10" href="#b" x="520"/><use id="k75-11" href="#b" x="572"/><use id="k75-12" href="#b" x="624"/></g>
<g id="row76" transform="translate(31.5 3962)"><use id="k76-1" href="#c" x="52"/><use id="k76-2" href="#d" x="104"/><use id="k76-3" href="#d" x="156"/><use id="k76-4" href="#d" x="208"/><use id="k76-5" href="#d" x="260"/><use id="k76-6" href="#c" x="312"/><use id="k76-7" href="#c" x="364"/><use id="k76-8" href="#c" x="416"/><use id="k76-9" href="#c" x="468"/><use id="k76-10" href="#c" x="520"/><use id="k76-11" href="#c" x="572"/><use id="k76-12" href="#c" x="624"/></g>
<g id="row77" transform="translate(31.5 4014)"><use id="k77-1" href="#a" x="52"/><use id="k77-2" href="#a" x="104"/><use id="k77-3" href="#b" x="156"/><use id="k77-4" href="#b" x="208"/><use id="k77-5" href="#b" x="260"/><use id="k77-6" href="#b" x="312"/><use id="k77-7" href="#b" x="364"/><use id="k77-8" href="#b" x="416"/><use id="k77-9" href="#a" x="468"/><use id="k77-10" href="#a" x="520"/><use id="k77-11" href="#a" x="572"/><use id="k77-12" href="#a" x="624"/></g>
</g>
<text class="wm" x="370" y="2068.5">BRACELETBOOK.COM</text>
<g id="labels-left" class="nl">
<text x="21" y="66.5">1</text><text x="21" y="118.5">2</text><text x="21" y="170.5">3</text><text x="21" y="222.5">4</text><text x="21" y="274.5">5</text><text x="21" y="326.5">6</text><text x="21" y="378.5">7</text><text x="21" y="430.5">8</text><text x="21" y="482.5">9</text><text x="21" y="534.5">10</text><text x="21" y="586.5">11</text><text x="21" y="638.5">12</text><text x="21" y="690.5">13</text><text x="21" y="742.5">14</text><text x="21" y="794.5">15</text><text x="21" y="846.5">16</text><text x="21" y="898.5">17</text><text x="21" y="950.5">18</text><text x="21" y="1002.5">19</text><text x="21" y="1054.5">20</text><text x="21" y="1106.5">21</text><text x="21" y="1158.5">22</text><text x="21" y="1210.5">23</text><text x="21" y="1262.5">24</text><text x="21" y="1314.5">25</text><text x="21" y="1366.5">26</text><text x="21" y="1418.5">27</text><text x="21" y="1470.5">28</text><text x="21" y="1522.5">29</text><text x="21" y="1574.5">30</text><text x="21" y="1626.5">31</text><text x="21" y="1678.5">32</text><text x="21" y="1730.5">33</text><text x="21" y="1782.5">34</text><text x="21" y="1834.5">35</text><text x="21" y="1886.5">36</text><text x="21" y="1938.5">37</text><text x="21" y="1990.5">38</text><text x="21" y="2042.5">39</text><text x="21" y="2094.5">40</text><text x="21" y="2146.5">41</text><text x="21" y="2198.5">42</text><text x="21" y="2250.5">43</text><text x="21" y="2302.5">44</text><text x="21" y="2354.5">45</text><text x="21" y="2406.5">46</text><text x="21" y="2458.5">47</text><text x="21" y="2510.5">48</text><text x="21" y="2562.5">49</text><text x="21" y="2614.5">50</text><text x="21" y="2666.5">51</text><text x="21" y="2718.5">52</text><text x="21" y="2770.5">53</text><text x="21" y="2822.5">54</text><text x="21" y="2874.5">55</text><text x="21" y="2926.5">56</text><text x="21" y="2978.5">57</text><text x="21" y="3030.5">58</text><text x="21" y="3082.5">59</text><text x="21" y="3134.5">60</text><text x="21" y="3186.5">61</text><text x="21" y="3238.5">62</text><text x="21" y="3290.5">63</text><text x="21" y="3342.5">64</text><text x="21" y="3394.5">65</text><text x="21" y="3446.5">66</text><text x="21" y="3498.5">67</text><text x="21" y="3550.5">68</text><text x="21" y="3602.5">69</text><text x="21" y="3654.5">70</text><text x="21" y="3706.5">71</text><text x="21" y="3758.5">72</text><text x="21" y="3810.5">73</text><text x="21" y="3862.5">74</text><text x="21" y="3914.5">75</text><text x="21" y="3966.5">76</text><text x="21" y="4018.5">77</text>
</g>
<g id="labels-right" class="nr">
<text x="719" y="66.5">1</text><text x="719" y="118.5">2</text><text x="719" y="170.5">3</text><text x="719" y="222.5">4</text><text x="719" y="274.5">5</text><text x="719" y="326.5">6</text><text x="719" y="378.5">7</text><text x="719" y="430.5">8</text><text x="719" y="482.5">9</text><text x="719" y="534.5">10</text><text x="719" y="586.5">11</text><text x="719" y="638.5">12</text><text x="719" y="690.5">13</text><text x="719" y="742.5">14</text><text x="719" y="794.5">15</text><text x="719" y="846.5">16</text><text x="719" y="898.5">17</text><text x="719" y="950.5">18</text><text x="719" y="1002.5">19</text><text x="719" y="1054.5">20</text><text x="719" y="1106.5">21</text><text x="719" y="1158.5">22</text><text x="719" y="1210.5">23</text><text x="719" y="1262.5">24</text><text x="719" y="1314.5">25</text><text x="719" y="1366.5">26</text><text x="719" y="1418.5">27</text><text x="719" y="1470.5">28</text><text x="719" y="1522.5">29</text><text x="719" y="1574.5">30</text><text x="719" y="1626.5">31</text><text x="719" y="1678.5">32</text><text x="719" y="1730.5">33</text><text x="719" y="1782.5">34</text><text x="719" y="1834.5">35</text><text x="719" y="1886.5">36</text><text x="719" y="1938.5">37</text><text x="719" y="1990.5">38</text><text x="719" y="2042.5">39</text><text x="719" y="2094.5">40</text><text x="719" y="2146.5">41</text><text x="719" y="2198.5">42</text><text x="719" y="2250.5">43</text><text x="719" y="2302.5">44</text><text x="719" y="2354.5">45</text><text x="719" y="2406.5">46</text><text x="719" y="2458.5">47</text><text x="719" y="2510.5">48</text><text x="719" y="2562.5">49</text><text x="719" y="2614.5">50</text><text x="719" y="2666.5">51</text><text x="719" y="2718.5">52</text><text x="719" y="2770.5">53</text><text x="719" y="2822.5">54</text><text x="719" y="2874.5">55</text><text x="719" y="2926.5">56</text><text x="719" y="2978.5">57</text><text x="719" y="3030.5">58</text><text x="719" y="3082.5">59</text><text x="719" y="3134.5">60</text><text x="719" y="3186.5">61</text><text x="719" y="3238.5">62</text><text x="719" y="3290.5">63</text><text x="719" y="3342.5">64</text><text x="719" y="3394.5">65</text><text x="719" y="3446.5">66</text><text x="719" y="3498.5">67</text><text x="719" y="3550.5">68</text><text x="719" y="3602.5">69</text><text x="719" y="3654.5">70</text><text x="719" y="3706.5">71</text><text x="719" y="3758.5">72</text><text x="719" y="3810.5">73</text><text x="719" y="3862.5">74</text><text x="719" y="3914.5">75</text><text x="719" y="3966.5">76</text><text x="719" y="4018.5">77</text>
</g>
</svg>
